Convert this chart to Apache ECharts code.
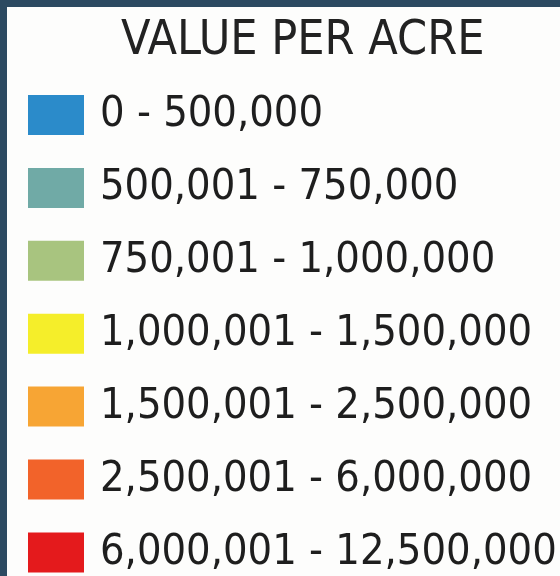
<!DOCTYPE html>
<html>
<head>
<meta charset="utf-8">
<script src="https://cdn.jsdelivr.net/npm/echarts@6/dist/echarts.min.js"></script>
<style>
html,body{margin:0;padding:0;background:#2c4a61;}
#chart{width:560px;height:576px;}
</style>
</head>
<body>
<div id="chart"></div>
<script>
var titleText = 'VALUE PER ACRE';
var lowerBounds = [0, 500001, 750001, 1000001, 1500001, 2500001, 6000001];
var upperBounds = [500000, 750000, 1000000, 1500000, 2500000, 6000000, 12500000];
var classColors = ['#2b8bca', '#70aaa6', '#a8c47f', '#f5ee2a', '#f7a534', '#f2632a', '#e41a1c'];

function fmt(n) { return n.toLocaleString('en-US'); }

var pieces = lowerBounds.map(function (lo, i) {
  return { min: lo, max: upperBounds[i], label: fmt(lo) + ' - ' + fmt(upperBounds[i]), color: classColors[i] };
});

var FONT = '"DejaVu Sans Condensed", "Liberation Sans", sans-serif';

var chart = echarts.init(document.getElementById('chart'), null, { renderer: 'canvas' });
chart.setOption({
  backgroundColor: '#2c4a61',
  animation: false,
  graphic: [{
    type: 'rect', z: -10, silent: true,
    shape: { x: 7, y: 7, width: 560, height: 576 },
    style: { fill: '#fdfdfc' }
  }],
  title: {
    text: titleText,
    left: 121,
    top: 18,
    padding: 0,
    textStyle: { fontFamily: FONT, fontSize: 48, fontWeight: 'normal', color: '#222222', lineHeight: 48 }
  },
  visualMap: {
    type: 'piecewise',
    orient: 'vertical',
    inverse: true,
    left: 28,
    top: 93.5,
    padding: 0,
    itemWidth: 56,
    itemHeight: 40,
    itemGap: 29.9,
    textGap: 16,
    itemSymbol: 'rect',
    selectedMode: false,
    pieces: pieces,
    textStyle: { fontFamily: FONT, fontSize: 43, color: '#1e1e1e', lineHeight: 40 }
  },
  series: []
});
</script>
</body>
</html>
